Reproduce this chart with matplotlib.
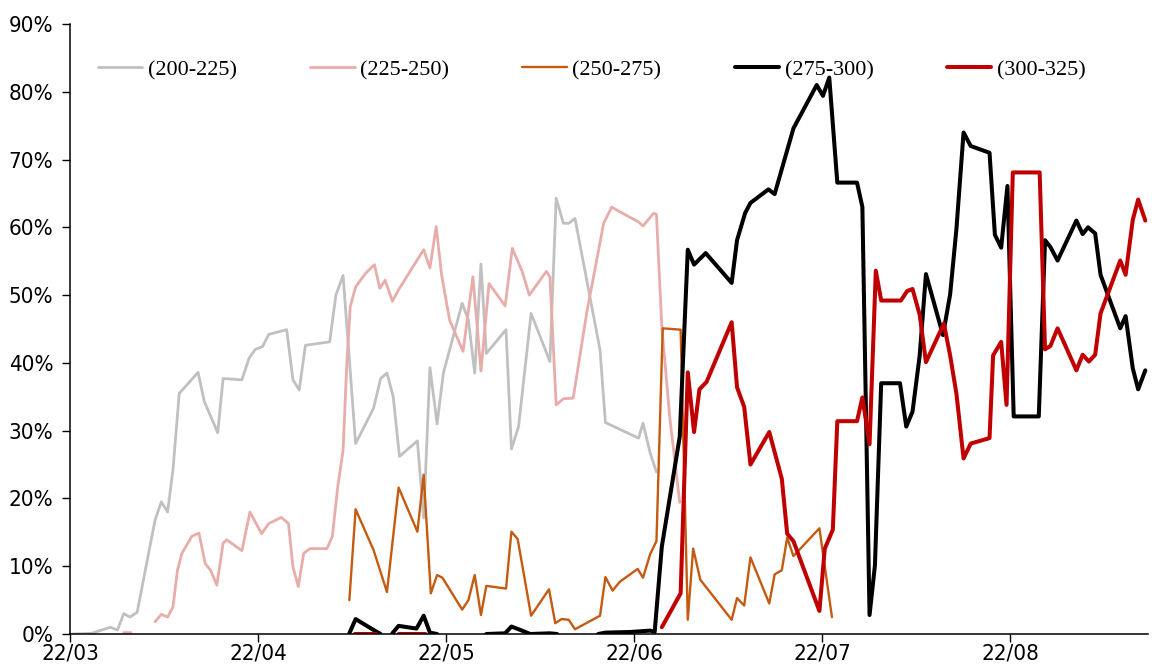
import numpy as np
import matplotlib
matplotlib.use("Agg")
import matplotlib.pyplot as plt
from matplotlib.ticker import FuncFormatter
from matplotlib import font_manager

nan = np.nan

# x = trading-day index counted from 22/03 (21 per month)
month_labels = ["22/03", "22/04", "22/05", "22/06", "22/07", "22/08"]
month_pos = [0, 21, 42, 63, 84, 105]

x_200 = [0.2, 2.4, 4.5, 5.3, 6.0, 6.7, 7.5, 9.5, 10.2, 10.9, 11.5, 12.2, 14.3, 15.0,
         16.5, 17.1, 19.2, 20.0, 20.7, 21.5, 22.2, 24.2, 24.9, 25.6, 26.3, 29.0, 29.7,
         30.5, 31.9, 33.9, 34.7, 35.4, 36.1, 36.8, 38.8, 39.5, 40.2, 41.0, 41.7, 43.8,
         44.5, 45.2, 45.9, 46.5, 48.7, 49.3, 50.1, 51.5, 53.6, 54.3, 55.1, 55.7, 56.4,
         59.2, 59.8, 63.5, 64.0, 64.8, 65.5]
y_200 = [0, 0.1, 1.0, 0.6, 3.0, 2.5, 3.2, 16.8, 19.5, 18.0, 24.2, 35.5, 38.6, 34.3,
         29.7, 37.7, 37.5, 40.7, 42.0, 42.4, 44.2, 44.9, 37.5, 36.0, 42.6, 43.1, 50.0,
         52.9, 28.1, 33.3, 37.7, 38.5, 35.0, 26.2, 28.5, 17.1, 39.3, 31.0, 38.5, 48.8,
         46.3, 38.5, 54.6, 41.4, 44.9, 27.3, 30.6, 47.3, 40.2, 64.3, 60.6, 60.6, 61.3,
         41.9, 31.2, 28.9, 31.1, 26.7, 23.9]

x_225 = [6.0, 6.8, nan, 9.5, 10.2, 10.9, 11.5, 12.0, 12.5, 13.6, 14.4, 15.1, 15.7, 16.4,
         17.1, 17.5, 19.2, 20.1, 21.4, 22.2, 23.6, 24.4, 24.9, 25.5, 26.1, 26.8, 28.7,
         29.3, 29.9, 30.5, 30.9, 31.3, 31.9, 33.0, 34.0, 34.6, 35.2, 36.0, 36.7, 39.5,
         40.2, 40.9, 41.5, 42.4, 43.9, 45.0, 45.9, 46.8, 48.6, 49.4, 50.5, 51.3, 53.2,
         53.6, 54.3, 55.1, 56.2, 57.7, 59.6, 60.5, 61.4, 63.5, 64.0, 65.2, 65.5, 66.1,
         67.0, 68.1]
y_225 = [0.2, 0.2, nan, 1.8, 2.9, 2.5, 4.0, 9.4, 11.9, 14.4, 14.9, 10.4, 9.4, 7.2,
         13.4, 13.9, 12.3, 18.0, 14.8, 16.3, 17.2, 16.3, 9.9, 7.0, 11.9, 12.6, 12.6,
         14.4, 21.7, 27.1, 39.4, 48.3, 51.2, 53.2, 54.5, 51.0, 52.2, 49.1, 50.8, 56.7,
         54.0, 60.1, 53.0, 46.3, 41.7, 52.7, 38.8, 51.7, 48.4, 56.9, 53.5, 50.0, 53.5,
         52.7, 33.8, 34.7, 34.8, 47.3, 60.6, 63.0, 62.3, 60.8, 60.2, 62.1, 61.9, 45.3,
         31.8, 19.4]

x_250 = [31.2, 31.9, 33.9, 35.4, 36.7, 38.8, 39.5, 40.3, 41.0, 41.6, 43.8, 44.5, 45.2,
         45.9, 46.5, 48.7, 49.3, 50.0, 51.5, 53.5, 54.2, 54.9, 55.7, 56.4, 59.2, 59.8,
         60.6, 61.4, 63.4, 64.0, 64.8, 65.5, 66.2, 68.2, 69.0, 69.6, 70.4, 73.9, 74.5,
         75.3, 76.0, 78.1, 78.7, 79.5, 80.1, 80.8, 83.7, 85.1]
y_250 = [5.0, 18.4, 12.4, 6.2, 21.6, 15.1, 23.5, 6.0, 8.7, 8.3, 3.6, 5.0, 8.7,
         2.8, 7.1, 6.7, 15.1, 14.0, 2.7, 6.6, 1.6, 2.2, 2.1, 0.7, 2.7, 8.4,
         6.4, 7.7, 9.6, 8.3, 11.8, 13.7, 45.1, 44.9, 2.1, 12.6, 8.0, 2.1, 5.3,
         4.2, 11.3, 4.5, 8.8, 9.4, 14.2, 11.5, 15.6, 2.5]

x_275 = [31.2, 31.9, 33.9, 34.7, nan, 36.0, 36.7, 38.7, 39.5, 40.2, 41.0, nan,
         46.5, 48.6, 49.3, 50.1, 51.4, 53.6, 54.4, nan,
         59.0, 59.8, 62.6, 64.8, 65.3, 66.1, 68.1, 69.0, 69.7, 71.0, 73.9, 74.5, 75.4,
         76.0, 78.0, 78.7, 80.8, 83.4, 84.1, 84.8, 85.7, 87.9, 88.5, 89.3, 89.9, 90.6,
         92.7, 93.4, 94.1, 94.9, 95.6, 97.5, 98.3, 99.0, 99.8, 100.6, 102.7, 103.3,
         104.0, 104.7, 105.4, 108.2, 108.9, 109.5, 110.3, 112.4, 113.1, 113.7, 114.5,
         115.1, 117.3, 117.9, 118.7, 119.3, 120.1]
y_275 = [0.1, 2.2, 0.6, 0, nan, 0.1, 1.2, 0.8, 2.7, 0.2, 0, nan,
         0, 0.1, 1.1, 0.7, 0, 0.1, 0, nan,
         0, 0.2, 0.3, 0.5, 0.3, 12.9, 29.1, 56.7, 54.5, 56.2, 51.8, 58.1, 62.1,
         63.6, 65.6, 64.9, 74.6, 81.0, 79.4, 82.1, 66.6, 66.6, 63.0, 2.8, 10.1, 37.0,
         37.0, 30.6, 32.8, 41.1, 53.1, 44.1, 50.1, 59.7, 74.0, 72.0, 71.0, 58.9,
         57.0, 66.1, 32.1, 32.1, 58.1, 57.1, 55.1, 61.0, 59.0, 60.0, 59.1,
         53.0, 45.1, 46.9, 39.2, 36.1, 38.9]

x_300 = [31.8, 34.2, nan, 36.7, 39.7, nan,
         66.1, 68.2, 69.0, 69.7, 70.3, 71.1, 73.9, 74.5, 75.3, 76.0, 78.1, 79.5, 80.1,
         80.8, 83.7, 84.3, 85.2, 85.7, 87.9, 88.5, 89.3, 90.0, 90.6, 92.8, 93.5, 94.1,
         94.9, 95.6, 97.6, 98.3, 99.0, 99.8, 100.6, 102.7, 103.1, 104.0, 104.6, 105.3,
         108.3, 108.9, 109.5, 110.3, 112.4, 113.1, 113.8, 114.5, 115.1, 117.3, 117.9,
         118.7, 119.3, 120.1]
y_300 = [0, 0, nan, 0, 0, nan,
         1.0, 6.0, 38.6, 29.8, 36.1, 37.2, 46.0, 36.4, 33.5, 25.0, 29.8, 22.9, 14.8,
         13.7, 3.4, 12.6, 15.4, 31.4, 31.4, 34.9, 28.0, 53.6, 49.2, 49.2, 50.6, 50.9,
         47.1, 40.1, 45.8, 41.1, 35.5, 25.9, 28.1, 28.9, 41.1, 43.1, 33.8, 68.1,
         68.1, 42.0, 42.5, 45.1, 38.9, 41.2, 40.2, 41.2, 47.3, 55.1, 53.0,
         61.1, 64.1, 61.0]

series = [
    ("(200-225)", x_200, y_200, "#C0C0C0", 2.0),
    ("(225-250)", x_225, y_225, "#E8ADAA", 2.0),
    ("(250-275)", x_250, y_250, "#C55A11", 1.7),
    ("(275-300)", x_275, y_275, "#000000", 2.9),
    ("(300-325)", x_300, y_300, "#C00000", 2.9),
]

# narrow sans for the tick labels if one is around
names = {f.name for f in font_manager.fontManager.ttflist}
narrow = [n for n in ['Liberation Sans Narrow', 'DejaVu Sans Condensed'] if n in names]
plt.rcParams['font.family'] = narrow + ['DejaVu Sans']
if not narrow:
    plt.rcParams['font.stretch'] = 'condensed'

fig = plt.figure(figsize=(11.56, 6.68), dpi=100)
ax = fig.add_axes([70 / 1156, 34 / 668, 1078 / 1156, 610 / 668])

for name, xs, ys, col, lw in series:
    ax.plot(xs, ys, color=col, lw=lw, label=name,
            solid_joinstyle='round', solid_capstyle='round')

ax.set_xlim(0, 120.4)
ax.set_ylim(0, 90)
ax.set_yticks(np.arange(0, 91, 10))
ax.yaxis.set_major_formatter(FuncFormatter(lambda v, p: "%d%%" % v))
ax.set_xticks(month_pos)
ax.set_xticklabels(month_labels)
ax.tick_params(axis='both', labelsize=16, length=6, width=1, direction='out')
ax.tick_params(axis='y', pad=6)
ax.tick_params(axis='x', pad=1)
for s in ['top', 'right']:
    ax.spines[s].set_visible(False)
for s in ['left', 'bottom']:
    ax.spines[s].set_linewidth(1.1)

leg = ax.legend(loc='center left', bbox_to_anchor=(0.0155, 0.925), ncol=5,
                frameon=False, borderpad=0, handlelength=2.0, handletextpad=0.25,
                columnspacing=3.3, prop={'family': 'Liberation Serif', 'size': 16})

fig.savefig("out.png", dpi=100)
